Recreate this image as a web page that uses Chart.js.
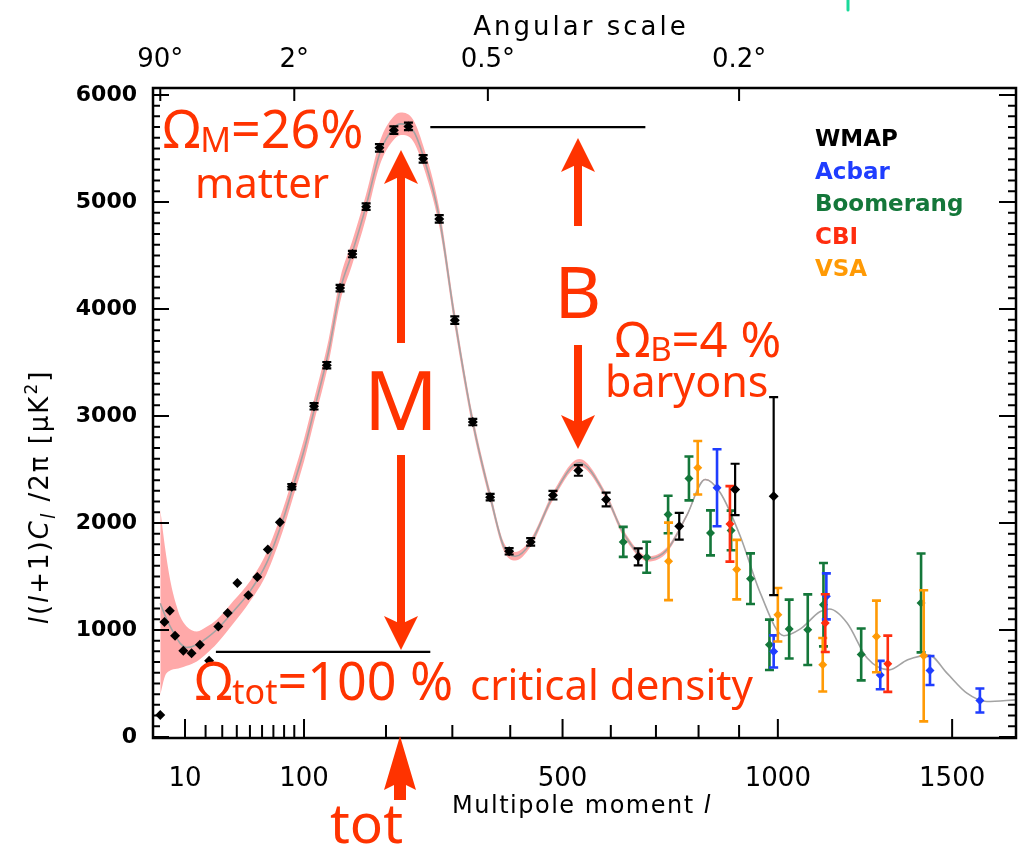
<!DOCTYPE html>
<html>
<head>
<meta charset="utf-8">
<script src="https://cdn.jsdelivr.net/npm/chart.js@4.4.0/dist/chart.umd.min.js"></script>
<style>
  html, body { margin: 0; padding: 0; background: #fff; }
  #wrap { position: relative; width: 1023px; height: 850px; }
</style>
</head>
<body>
<div id="wrap"><canvas id="cmb"></canvas></div>
<script>
// angular power spectrum, l(l+1)C_l/2pi in uK^2

// best-fit model curve
const theoryL = [2, 3.1, 4.6, 6.8, 8, 10.7, 15.4, 20.6, 26.5, 37.5, 50, 64, 79, 89, 100, 111, 127, 141, 155, 173,
  192, 210, 221, 239, 254, 279, 304, 334, 364, 388, 409, 438, 481, 534, 590, 627, 683, 726, 771, 816,
  853, 903, 954, 1016, 1060, 1113, 1140, 1189, 1246, 1310, 1365, 1429, 1484, 1546, 1609, 1703];
const theoryCl = [1250, 1140, 1033, 925, 877, 836, 861, 924, 1002, 1173, 1360, 1626, 2032, 2344, 2680, 3060, 3600, 4185, 4513, 4956,
  5465, 5684, 5730, 5668, 5433, 4857, 3904, 2943, 2250, 1782, 1688, 1814, 2250, 2563, 2250, 1907, 1664, 1751, 2063, 2406,
  2282, 1876, 1346, 946, 1010, 1170, 1195, 1065, 737, 627, 721, 765, 596, 409, 331, 346];

// cosmic variance band around the model (same l as the first entries of theoryL)
const bandHi = [2125, 1782, 1470, 1220, 1130, 1033, 986, 1030, 1095, 1270, 1455, 1726, 2132, 2444, 2785, 3165, 3710, 4295, 4623, 5066,
  5575, 5794, 5835, 5768, 5528, 4942, 3979, 3003, 2300, 1822, 1728, 1849, 2285, 2598, 2280, 1937, 1689, 1776, 2078, 2414,
  2286, 1876];
const bandLo = [393, 565, 621, 637, 645, 665, 705, 780, 870, 1060, 1265, 1526, 1932, 2244, 2575, 2955, 3490, 4075, 4403, 4846,
  5355, 5574, 5625, 5568, 5338, 4772, 3829, 2883, 2200, 1742, 1648, 1779, 2215, 2528, 2220, 1877, 1639, 1726, 2048, 2398,
  2278, 1876];

const wmapL = [2, 3, 4.5, 6.2, 9.3, 12.9, 17, 22, 27.5, 33.6, 40.4, 48.7, 56, 65, 76, 87.5, 110.7, 125, 140.6, 155.7,
  173.3, 191, 211, 232, 254, 279, 304, 334, 364, 398, 438, 481, 532, 590, 660, 754, 890, 989];
const wmapCl = [206, 1074, 1180, 946, 805, 783, 861, 711, 1033, 1158, 1439, 1323, 1495, 1751, 2007, 2338, 3090, 3474, 4195, 4513,
  4956, 5506, 5671, 5706, 5403, 4841, 3895, 2943, 2241, 1735, 1823, 2259, 2491, 2219, 1683, 1969, 2313, 2250];
const wmapErr = [0, 0, 0, 0, 0, 0, 0, 0, 0, 0, 0, 0, 0, 0, 0, 25, 30, 30, 30, 30,
  30, 35, 35, 35, 35, 35, 35, 30, 30, 30, 35, 40, 50, 65, 80, 125, 240, 925];

const acbarL = [845, 989, 1131, 1284, 1432, 1587];
const acbarCl = [2329, 799, 1314, 578, 621, 340];
const acbarErr = [360, 150, 215, 133, 135, 112];

const boomL = [627, 679, 728, 777, 829, 880, 929, 978, 1030, 1080, 1123, 1229, 1405];
const boomCl = [1823, 1679, 2079, 2416, 1907, 1930, 1479, 861, 1008, 1002, 1236, 771, 1252];
const boomErr = [140, 145, 175, 205, 210, 185, 237, 235, 275, 330, 390, 242, 462];

const cbiL = [877, 1128, 1306];
const cbiCl = [1991, 1064, 684];
const cbiErr = [353, 270, 263];

const vsaL = [729, 798, 894, 1000, 1121, 1273, 1413];
const vsaCl = [1641, 2516, 1564, 1142, 674, 939, 758];
const vsaErr = [362, 250, 278, 250, 250, 335, 613];

const xTicks = [10, 100, 500, 1000, 1500];
const xMinor = [20, 30, 40, 50, 60, 70, 80, 90, 200, 300, 400, 600, 700, 800, 900];
const angleL = [2, 90, 360, 900];
const angleLabels = ['90°', '2°', '0.5°', '0.2°'];
const yTicks = [0, 1000, 2000, 3000, 4000, 5000, 6000];

// reference levels: first peak height and the flat (tot) level
const peakLine = { from: 265, to: 676, level: 5700 };
const flatLine = { from: 26, to: 265, level: 795 };

const RED = '#ff3300';
const LEGEND = [['WMAP', '#000000'], ['Acbar', '#1f3dff'], ['Boomerang', '#14773a'], ['CBI', '#ff2d0f'], ['VSA', '#ff9a05']];

// x axis is linear in l^0.6
const X_POW = 0.6;
class PowScale extends Chart.LinearScale {
  getPixelForValue(v) {
    const a = Math.pow(this.min, X_POW), b = Math.pow(this.max, X_POW);
    return this.getPixelForDecimal((Math.pow(v, X_POW) - a) / (b - a));
  }
  getValueForPixel(p) {
    const a = Math.pow(this.min, X_POW), b = Math.pow(this.max, X_POW);
    return Math.pow(a + this.getDecimalForPixel(p) * (b - a), 1 / X_POW);
  }
}
PowScale.id = 'pow';
PowScale.defaults = Chart.LinearScale.defaults;
Chart.register(PowScale);

const pts = (L, V) => V.map((v, i) => ({ x: L[i], y: v }));
const errPts = (L, V, E) => L.map((l, i) => ({ x: l, y: V[i], err: E[i] }));

function arrow(ctx, x, tail, tip, shaft, headW, headLen) {
  const dir = Math.sign(tip - tail);
  const base = tip - dir * headLen;
  const notch = base + dir * 8;
  ctx.fillRect(x - shaft / 2, Math.min(tail, notch), shaft, Math.abs(notch - tail));
  ctx.beginPath();
  ctx.moveTo(x, tip);
  ctx.lineTo(x + headW / 2, base);
  ctx.lineTo(x, notch);
  ctx.lineTo(x - headW / 2, base);
  ctx.closePath();
  ctx.fill();
}

// text runs: [text, size, baseline shift, italic]
function runs(ctx, x, y, parts, family) {
  parts.forEach(([t, size, dy, it]) => {
    ctx.font = (it ? 'italic ' : '') + size + 'px ' + family;
    ctx.fillText(t, x, y + (dy || 0));
    x += ctx.measureText(t).width;
  });
  return x;
}
function runsWidth(ctx, parts, family) {
  let w = 0;
  parts.forEach(([t, size, dy, it]) => {
    ctx.font = (it ? 'italic ' : '') + size + 'px ' + family;
    w += ctx.measureText(t).width;
  });
  return w;
}

const decor = {
  id: 'decor',
  beforeDatasetDraw(chart, args) {
    const ds = chart.data.datasets[args.index];
    if (!ds.errColor) return;
    const ctx = chart.ctx, ys = chart.scales.y;
    ctx.save();
    ctx.strokeStyle = ds.errColor;
    ctx.lineWidth = ds.errWidth;
    args.meta.data.forEach((el, i) => {
      const d = ds.data[i];
      if (!d.err) return;
      const t = ys.getPixelForValue(d.y + d.err), b = ys.getPixelForValue(d.y - d.err);
      const c = ds.capHalf;
      ctx.beginPath();
      ctx.moveTo(el.x, t); ctx.lineTo(el.x, b);
      ctx.moveTo(el.x - c, t); ctx.lineTo(el.x + c, t);
      ctx.moveTo(el.x - c, b); ctx.lineTo(el.x + c, b);
      ctx.stroke();
    });
    ctx.restore();
  },
  afterDatasetsDraw(chart) {
    const ctx = chart.ctx;
    const { left, right, top, bottom } = chart.chartArea;
    const xs = chart.scales.x, ys = chart.scales.y;
    ctx.save();

    // tick marks point into the plot
    ctx.strokeStyle = '#000';
    ctx.lineWidth = 2;
    ctx.beginPath();
    xTicks.forEach(l => { const p = xs.getPixelForValue(l); ctx.moveTo(p, bottom); ctx.lineTo(p, bottom - 19); });
    xMinor.forEach(l => { const p = xs.getPixelForValue(l); ctx.moveTo(p, bottom); ctx.lineTo(p, bottom - 13); });
    angleL.forEach(l => { const p = xs.getPixelForValue(l); ctx.moveTo(p, top); ctx.lineTo(p, top + 13); });
    for (let v = 0; v <= 6000; v += 100) {
      const p = ys.getPixelForValue(v), major = v % 1000 === 0;
      ctx.moveTo(left, p); ctx.lineTo(left + (major ? 16 : 7), p);
      ctx.moveTo(right, p); ctx.lineTo(right - (major ? 17 : 8), p);
    }
    ctx.stroke();
    ctx.lineWidth = 2.5;
    ctx.strokeRect(left, top, right - left, bottom - top);

    // horizontal reference lines
    ctx.lineWidth = 2.2;
    ctx.beginPath();
    [peakLine, flatLine].forEach(r => {
      const y = ys.getPixelForValue(r.level);
      ctx.moveTo(xs.getPixelForValue(r.from), y);
      ctx.lineTo(xs.getPixelForValue(r.to), y);
    });
    ctx.stroke();

    // axis titles
    ctx.fillStyle = '#000';
    ctx.textBaseline = 'alphabetic';
    ctx.letterSpacing = '3px';
    ctx.font = '26px "DejaVu Sans"';
    ctx.textAlign = 'center';
    ctx.fillText('Angular scale', 581, 35);
    ctx.textAlign = 'left';
    ctx.letterSpacing = '1.5px';
    const xt = [['Multipole moment ', 24], ['l', 24, 0, true]];
    runs(ctx, 582 - runsWidth(ctx, xt, '"DejaVu Sans"') / 2, 813, xt, '"DejaVu Sans"');

    const yt = [['l', 26, 0, true], ['(', 26], ['l', 26, 0, true], ['+1)', 26], ['C', 26, 0, true], ['l', 19, 7, true],
      [' /2π [μK', 26], ['2', 17, -11], [']', 26]];
    ctx.letterSpacing = '2px';
    ctx.translate(48, 497);
    ctx.rotate(-Math.PI / 2);
    runs(ctx, -runsWidth(ctx, yt, '"DejaVu Sans"') / 2, 0, yt, '"DejaVu Sans"');
    ctx.setTransform(1, 0, 0, 1, 0, 0);
    ctx.letterSpacing = '0px';

    // experiment names
    ctx.font = 'bold 23px "DejaVu Sans"';
    LEGEND.forEach(([name, col], i) => {
      ctx.fillStyle = col;
      ctx.fillText(name, 815, 146 + i * 32.5);
    });

    // annotations
    const fam = '"Noto Sans"';
    ctx.fillStyle = RED;
    runs(ctx, 163, 148, [['Ω', 52], ['M', 34, 4], ['=26%', 52]], fam);
    runs(ctx, 195, 198, [['matter', 42]], fam);
    runs(ctx, 615, 357, [['Ω', 49], ['B', 33, 4], ['=4 %', 49]], fam);
    runs(ctx, 605, 397, [['baryons', 43]], fam);
    runs(ctx, 195, 700, [['Ω', 52], ['tot', 34, 4], ['=100 %', 52]], fam);
    runs(ctx, 470, 700, [['critical density', 42]], fam);
    runs(ctx, 330, 843, [['tot', 55]], fam);
    ctx.textAlign = 'center';
    ctx.font = '82px ' + fam;
    ctx.fillText('M', 401, 430);
    ctx.font = '72px ' + fam;
    ctx.fillText('B', 578, 318);
    ctx.textAlign = 'left';

    arrow(ctx, 401, 343, 150, 8, 34, 34);
    arrow(ctx, 401, 455, 650, 8, 34, 34);
    arrow(ctx, 578, 226, 138, 8, 34, 34);
    arrow(ctx, 578, 345, 449, 8, 34, 34);
    arrow(ctx, 400, 800, 736, 12, 32, 54);

    // stray mark at the top edge
    ctx.strokeStyle = '#19d99a';
    ctx.lineWidth = 3;
    ctx.lineCap = 'round';
    ctx.beginPath();
    ctx.moveTo(848, 0); ctx.lineTo(848, 10);
    ctx.stroke();
    ctx.restore();
  }
};

const pointSet = (label, L, V, E, color, radius, cap, width, order) => ({
  label, data: errPts(L, V, E), backgroundColor: color, borderWidth: 0,
  pointStyle: 'rectRot', pointRadius: radius, errColor: color, capHalf: cap, errWidth: width, order
});

new Chart(document.getElementById('cmb'), {
  type: 'scatter',
  data: {
    datasets: [
      pointSet('WMAP', wmapL, wmapCl, wmapErr, '#000000', 5, 4.5, 2.2, 1),
      pointSet('CBI', cbiL, cbiCl, cbiErr, '#ff2d0f', 4.5, 4.5, 2.6, 2),
      pointSet('VSA', vsaL, vsaCl, vsaErr, '#ff9a05', 4.5, 4.5, 2.6, 3),
      pointSet('Acbar', acbarL, acbarCl, acbarErr, '#1f3dff', 4.5, 4.5, 2.6, 4),
      pointSet('Boomerang', boomL, boomCl, boomErr, '#14773a', 4.5, 4.5, 2.6, 5),
      {
        label: 'model', data: pts(theoryL, theoryCl), showLine: true, borderColor: '#a3a3a3', borderWidth: 1.6,
        pointRadius: 0, cubicInterpolationMode: 'monotone', order: 10
      },
      {
        label: 'band', data: pts(theoryL, bandHi), showLine: true, borderWidth: 0, borderColor: 'rgba(0,0,0,0)',
        backgroundColor: '#ffa9a9', fill: '+1', pointRadius: 0, cubicInterpolationMode: 'monotone', order: 11
      },
      {
        label: 'bandLow', data: pts(theoryL, bandLo), showLine: true, borderWidth: 0, borderColor: 'rgba(0,0,0,0)',
        pointRadius: 0, cubicInterpolationMode: 'monotone', order: 12
      }
    ]
  },
  options: {
    responsive: true,
    maintainAspectRatio: false,
    animation: false,
    layout: { padding: { left: 0, right: 7, top: 0, bottom: 0 } },
    plugins: { legend: { display: false }, tooltip: { enabled: false } },
    scales: {
      x: {
        type: 'pow', position: 'bottom', min: 0.676, max: 1703,
        afterBuildTicks: s => { s.ticks = xTicks.map(v => ({ value: v })); },
        afterFit: s => { s.height = 112; },
        grid: { display: false, drawTicks: false }, border: { display: false },
        ticks: { autoSkip: false, maxRotation: 0, padding: 26, color: '#000',
          font: { family: '"DejaVu Sans"', size: 26 }, callback: v => String(v) }
      },
      x2: {
        type: 'pow', position: 'top', min: 0.676, max: 1703,
        afterBuildTicks: s => { s.ticks = angleL.map(v => ({ value: v })); },
        afterFit: s => { s.height = 88; },
        grid: { display: false, drawTicks: false }, border: { display: false },
        ticks: { autoSkip: false, maxRotation: 0, padding: 12, color: '#000',
          font: { family: '"DejaVu Sans"', size: 26 }, callback: v => angleLabels[angleL.indexOf(v)] }
      },
      y: {
        type: 'linear', min: -10, max: 6065,
        afterBuildTicks: s => { s.ticks = yTicks.map(v => ({ value: v })); },
        afterFit: s => { s.width = 153; },
        grid: { display: false, drawTicks: false }, border: { display: false },
        ticks: { padding: 16, color: '#000', font: { family: '"DejaVu Sans"', size: 22, weight: 'bold' },
          callback: v => String(v) }
      }
    }
  },
  plugins: [decor]
});
</script>
</body>
</html>
